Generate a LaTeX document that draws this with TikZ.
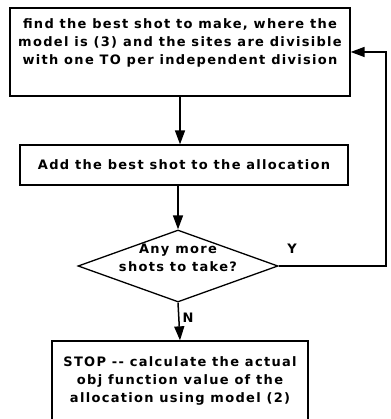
\documentclass[tikz,border=0pt]{standalone}
\usepackage{fontspec}
\setmainfont{DejaVu Sans}[LetterSpace=10]
\usetikzlibrary{shapes.geometric,arrows.meta}

\begin{document}
\begin{tikzpicture}[x=1pt,y=-1pt,
    box/.style={draw,line width=1.3pt,inner sep=0},
    txt/.style={align=center,font=\bfseries\fontsize{13}{18}\selectfont,inner sep=0},
    flow/.style={line width=1.5pt,-{Triangle[length=14pt,width=10pt]}}]
    \useasboundingbox (0,0) rectangle (390,419);
    % boxes
    \node[box,minimum width=340,minimum height=88] (find) at (180,52) {};
    \node[txt] (findtxt) at (180,43)
        {find the best shot to make, where the\\
         model is (3) and the sites are divisible\\
         with one TO per independent division};
    \node[box,minimum width=328,minimum height=40] (add) at (184,165) {};
    \node[txt] (addtxt) at (add) {Add the best shot to the allocation};
    \node[box,diamond,minimum width=200,minimum height=72] (ask) at (178,266) {};
    \node[txt] (asktxt) at (178,258) {Any more\\shots to take?};
    \node[box,minimum width=256,minimum height=80] (stop) at (180,381) {};
    \node[txt] (stoptxt) at (stop)
        {STOP -{}- calculate the actual\\
         obj function value of the\\
         allocation using model (2)};
    \coordinate (loop) at (386,0);
    % connectors
    \draw[flow] (find.south) -- (find.south |- add.north);
    \draw[flow] (ask.north |- add.south) -- (ask.north);
    \draw[flow] (ask.south) -- node[txt,right=3pt,pos=0.4]{N} (stop.north);
    \draw[flow] (ask.east) -- node[txt,anchor=south west,xshift=8pt,yshift=12pt,pos=0]{Y}
        (ask.east -| loop) |- (find.east);
\end{tikzpicture}
\end{document}
